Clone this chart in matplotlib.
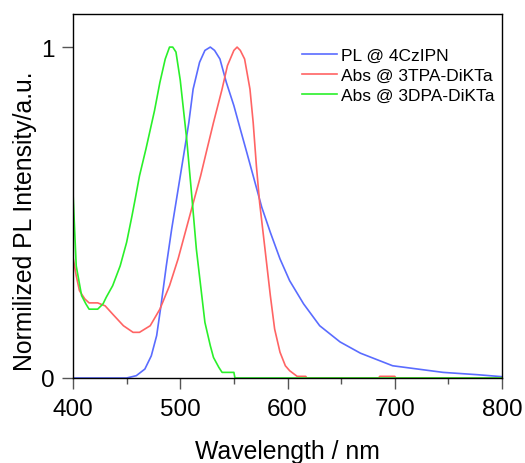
import matplotlib
matplotlib.use("Agg")
import matplotlib.pyplot as plt
from matplotlib.ticker import MultipleLocator

plt.rcParams['font.family'] = ['Liberation Sans', 'DejaVu Sans']

# PL @ 4CzIPN
pl_wl = [400, 450, 459, 467, 473, 478, 482, 487, 492, 496, 500, 504, 508, 512, 518, 523,
         528, 532, 537, 543, 550, 556, 562, 568, 576, 584, 593, 602, 615, 630, 649, 668,
         698, 745, 777, 800]
pl_val = [0, 0, 0.007, 0.027, 0.067, 0.128, 0.218, 0.339, 0.45, 0.53, 0.61, 0.69, 0.772,
          0.873, 0.954, 0.99, 1.0, 0.99, 0.964, 0.893, 0.823, 0.752, 0.682, 0.611, 0.516,
          0.44, 0.36, 0.294, 0.224, 0.158, 0.109, 0.075, 0.037, 0.017, 0.01, 0.004]

# Abs @ 3TPA-DiKTa
tpa_wl = [400, 403, 406, 411, 415, 423, 430, 437, 447, 456, 462, 472, 481, 490, 498, 503,
          511, 519, 525, 531, 539, 544, 550, 553, 556, 560, 565, 568, 571, 574, 579, 584,
          588, 593, 598, 602, 609, 617, 618, 685, 686, 700, 701, 800]
tpa_val = [0.365, 0.309, 0.264, 0.239, 0.227, 0.227, 0.218, 0.193, 0.158, 0.138, 0.138,
           0.158, 0.208, 0.279, 0.36, 0.42, 0.516, 0.611, 0.692, 0.772, 0.873, 0.944, 0.99,
           1.0, 0.99, 0.964, 0.873, 0.772, 0.641, 0.53, 0.39, 0.249, 0.148, 0.078, 0.037,
           0.022, 0.005, 0.005, 0, 0, 0.005, 0.005, 0, 0]

# Abs @ 3DPA-DiKTa
dpa_wl = [400, 403, 408, 412, 415, 423, 428, 431, 437, 444, 450, 455, 458, 462, 468, 476,
          481, 486, 490, 493, 496, 500, 506, 511, 515, 519, 523, 528, 531, 536, 539, 550,
          551, 800]
dpa_val = [0.56, 0.339, 0.249, 0.224, 0.208, 0.208, 0.224, 0.244, 0.279, 0.339, 0.41, 0.49,
           0.541, 0.611, 0.692, 0.808, 0.893, 0.964, 1.0, 1.0, 0.985, 0.90, 0.722, 0.541,
           0.39, 0.279, 0.168, 0.098, 0.062, 0.032, 0.017, 0.017, 0, 0]

labels = ['PL @ 4CzIPN', 'Abs @ 3TPA-DiKTa', 'Abs @ 3DPA-DiKTa']
colors = ['#5a6cff', '#ff6464', '#2af02a']

fig = plt.figure(figsize=(5.25, 4.64), dpi=100)
ax = fig.add_axes([73/525, 1-379/464, (502-73)/525, (379-15)/464])

ax.plot(pl_wl, pl_val, color=colors[0], lw=1.2, label=labels[0])
ax.plot(tpa_wl, tpa_val, color=colors[1], lw=1.2, label=labels[1])
ax.plot(dpa_wl, dpa_val, color=colors[2], lw=1.2, label=labels[2])

ax.set_xlim(400, 800)
ax.set_ylim(0, 1.1)
ax.set_xticks([400, 500, 600, 700, 800])
ax.xaxis.set_minor_locator(MultipleLocator(50))
ax.set_yticks([0, 1])
ax.tick_params(axis='both', which='major', direction='out', length=8, width=1,
               color='#555555', labelsize=17.5, pad=5)
ax.tick_params(axis='x', which='major', pad=6.5)
ax.tick_params(axis='x', which='minor', direction='out', length=4, width=1, color='#555555')
ax.tick_params(top=False, right=False)
for s in ax.spines.values():
    s.set_linewidth(1.0)
    s.set_color('black')

ax.set_xlabel('Wavelength / nm', fontsize=17.8, labelpad=13.5)
ax.set_ylabel('Normilized PL Intensity/a.u.', fontsize=17.8)
ax.yaxis.set_label_coords(-0.083, 0.434)

ax.legend(loc='upper left', bbox_to_anchor=(0.534, 0.9075), frameon=False, fontsize=12.5,
          handlelength=2.0, handletextpad=0.23, labelspacing=0.29, borderpad=0,
          borderaxespad=0)

fig.savefig('out.png', dpi=100)
